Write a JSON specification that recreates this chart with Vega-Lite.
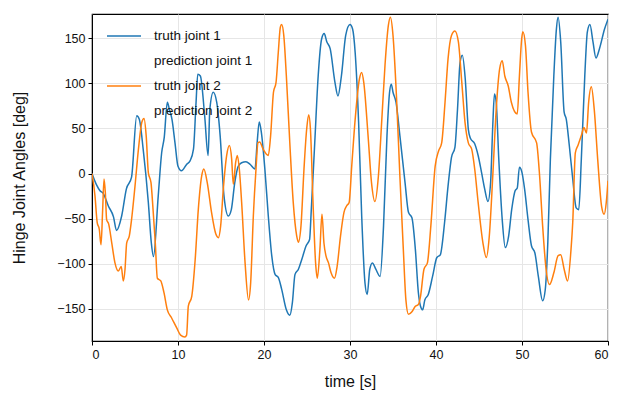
{
  "$schema": "https://vega.github.io/schema/vega-lite/v6.json",
  "width": 516,
  "height": 327,
  "autosize": {"type": "none"},
  "padding": {"left": 92, "top": 14, "right": 10, "bottom": 55},
  "background": "white",
  "config": {
    "view": {"stroke": "black", "strokeWidth": 1.2},
    "font": "Liberation Sans",
    "axis": {
      "domainColor": "black", "tickColor": "black", "tickSize": 4, "labelFontSize": 12.5, "labelColor": "#111",
      "titleFontSize": 16, "titleFontWeight": "normal", "titleColor": "#111", "titleLimit": 500, "gridColor": "#e6e6e6", "gridWidth": 1, "labelPadding": 3
    }
  },
  "data": {"values": [
    {"s":"truth joint 1","t":0,"v":0},{"s":"truth joint 1","t":0.5,"v":-12},{"s":"truth joint 1","t":0.93,"v":-19},{"s":"truth joint 1","t":1.3,"v":-22},{"s":"truth joint 1","t":1.9,"v":-36},{"s":"truth joint 1","t":2.5,"v":-48},{"s":"truth joint 1","t":2.85,"v":-63},{"s":"truth joint 1","t":3.45,"v":-47},{"s":"truth joint 1","t":4.0,"v":-17},{"s":"truth joint 1","t":4.6,"v":-4},{"s":"truth joint 1","t":5.2,"v":64},{"s":"truth joint 1","t":5.5,"v":60},{"s":"truth joint 1","t":5.95,"v":27},{"s":"truth joint 1","t":6.55,"v":-32},{"s":"truth joint 1","t":6.9,"v":-77},{"s":"truth joint 1","t":7.15,"v":-92},{"s":"truth joint 1","t":7.7,"v":-25},{"s":"truth joint 1","t":8.1,"v":23},{"s":"truth joint 1","t":8.4,"v":40},{"s":"truth joint 1","t":8.76,"v":79},{"s":"truth joint 1","t":9.0,"v":71},{"s":"truth joint 1","t":9.3,"v":60},{"s":"truth joint 1","t":9.65,"v":34},{"s":"truth joint 1","t":10.0,"v":8},{"s":"truth joint 1","t":10.4,"v":3},{"s":"truth joint 1","t":11.0,"v":10},{"s":"truth joint 1","t":11.4,"v":14},{"s":"truth joint 1","t":11.8,"v":27},{"s":"truth joint 1","t":12.1,"v":79},{"s":"truth joint 1","t":12.3,"v":110},{"s":"truth joint 1","t":12.6,"v":108},{"s":"truth joint 1","t":13.1,"v":64},{"s":"truth joint 1","t":13.5,"v":20},{"s":"truth joint 1","t":13.7,"v":71},{"s":"truth joint 1","t":14.1,"v":90},{"s":"truth joint 1","t":14.5,"v":79},{"s":"truth joint 1","t":14.9,"v":42},{"s":"truth joint 1","t":15.35,"v":-25},{"s":"truth joint 1","t":15.85,"v":-47},{"s":"truth joint 1","t":16.2,"v":-40},{"s":"truth joint 1","t":16.6,"v":-10},{"s":"truth joint 1","t":17.0,"v":8},{"s":"truth joint 1","t":17.4,"v":12},{"s":"truth joint 1","t":17.9,"v":13},{"s":"truth joint 1","t":18.4,"v":10},{"s":"truth joint 1","t":18.95,"v":5},{"s":"truth joint 1","t":19.2,"v":34},{"s":"truth joint 1","t":19.45,"v":57},{"s":"truth joint 1","t":19.7,"v":45},{"s":"truth joint 1","t":20.1,"v":5},{"s":"truth joint 1","t":20.5,"v":-47},{"s":"truth joint 1","t":20.9,"v":-91},{"s":"truth joint 1","t":21.3,"v":-112},{"s":"truth joint 1","t":21.66,"v":-115},{"s":"truth joint 1","t":22.05,"v":-128},{"s":"truth joint 1","t":22.6,"v":-151},{"s":"truth joint 1","t":23.0,"v":-157},{"s":"truth joint 1","t":23.3,"v":-143},{"s":"truth joint 1","t":23.6,"v":-112},{"s":"truth joint 1","t":24.0,"v":-106},{"s":"truth joint 1","t":24.4,"v":-95},{"s":"truth joint 1","t":24.9,"v":-80},{"s":"truth joint 1","t":25.3,"v":-73},{"s":"truth joint 1","t":25.5,"v":-40},{"s":"truth joint 1","t":25.9,"v":34},{"s":"truth joint 1","t":26.3,"v":108},{"s":"truth joint 1","t":26.7,"v":149},{"s":"truth joint 1","t":27.0,"v":155},{"s":"truth joint 1","t":27.3,"v":146},{"s":"truth joint 1","t":27.7,"v":138},{"s":"truth joint 1","t":28.25,"v":101},{"s":"truth joint 1","t":28.6,"v":86},{"s":"truth joint 1","t":29.0,"v":108},{"s":"truth joint 1","t":29.5,"v":153},{"s":"truth joint 1","t":30.0,"v":165},{"s":"truth joint 1","t":30.3,"v":160},{"s":"truth joint 1","t":30.6,"v":134},{"s":"truth joint 1","t":31.0,"v":57},{"s":"truth joint 1","t":31.36,"v":-47},{"s":"truth joint 1","t":31.74,"v":-121},{"s":"truth joint 1","t":32.0,"v":-134},{"s":"truth joint 1","t":32.3,"v":-106},{"s":"truth joint 1","t":32.6,"v":-99},{"s":"truth joint 1","t":33.0,"v":-106},{"s":"truth joint 1","t":33.5,"v":-114},{"s":"truth joint 1","t":33.9,"v":-58},{"s":"truth joint 1","t":34.3,"v":42},{"s":"truth joint 1","t":34.6,"v":90},{"s":"truth joint 1","t":34.8,"v":99},{"s":"truth joint 1","t":35.0,"v":90},{"s":"truth joint 1","t":35.35,"v":79},{"s":"truth joint 1","t":35.8,"v":42},{"s":"truth joint 1","t":36.4,"v":-10},{"s":"truth joint 1","t":36.8,"v":-43},{"s":"truth joint 1","t":37.2,"v":-49},{"s":"truth joint 1","t":37.6,"v":-84},{"s":"truth joint 1","t":37.95,"v":-132},{"s":"truth joint 1","t":38.2,"v":-147},{"s":"truth joint 1","t":38.45,"v":-151},{"s":"truth joint 1","t":38.7,"v":-140},{"s":"truth joint 1","t":39.1,"v":-134},{"s":"truth joint 1","t":39.6,"v":-114},{"s":"truth joint 1","t":40.1,"v":-93},{"s":"truth joint 1","t":40.5,"v":-90},{"s":"truth joint 1","t":41.0,"v":-54},{"s":"truth joint 1","t":41.4,"v":-14},{"s":"truth joint 1","t":41.8,"v":18},{"s":"truth joint 1","t":42.2,"v":29},{"s":"truth joint 1","t":42.5,"v":71},{"s":"truth joint 1","t":42.8,"v":123},{"s":"truth joint 1","t":43.06,"v":131},{"s":"truth joint 1","t":43.4,"v":105},{"s":"truth joint 1","t":43.76,"v":49},{"s":"truth joint 1","t":44.0,"v":39},{"s":"truth joint 1","t":44.5,"v":33},{"s":"truth joint 1","t":44.9,"v":20},{"s":"truth joint 1","t":45.3,"v":1},{"s":"truth joint 1","t":45.66,"v":-17},{"s":"truth joint 1","t":46.04,"v":-31},{"s":"truth joint 1","t":46.35,"v":-10},{"s":"truth joint 1","t":46.6,"v":53},{"s":"truth joint 1","t":46.8,"v":88},{"s":"truth joint 1","t":47.0,"v":79},{"s":"truth joint 1","t":47.3,"v":16},{"s":"truth joint 1","t":47.7,"v":-51},{"s":"truth joint 1","t":48.06,"v":-82},{"s":"truth joint 1","t":48.45,"v":-69},{"s":"truth joint 1","t":48.8,"v":-40},{"s":"truth joint 1","t":49.2,"v":-19},{"s":"truth joint 1","t":49.45,"v":-16},{"s":"truth joint 1","t":49.7,"v":7},{"s":"truth joint 1","t":50.0,"v":1},{"s":"truth joint 1","t":50.3,"v":-17},{"s":"truth joint 1","t":50.7,"v":-51},{"s":"truth joint 1","t":51.1,"v":-80},{"s":"truth joint 1","t":51.5,"v":-88},{"s":"truth joint 1","t":51.9,"v":-114},{"s":"truth joint 1","t":52.4,"v":-141},{"s":"truth joint 1","t":52.7,"v":-129},{"s":"truth joint 1","t":53.0,"v":-77},{"s":"truth joint 1","t":53.3,"v":16},{"s":"truth joint 1","t":53.7,"v":108},{"s":"truth joint 1","t":54.0,"v":160},{"s":"truth joint 1","t":54.2,"v":173},{"s":"truth joint 1","t":54.5,"v":146},{"s":"truth joint 1","t":54.9,"v":68},{"s":"truth joint 1","t":55.15,"v":60},{"s":"truth joint 1","t":55.5,"v":31},{"s":"truth joint 1","t":55.9,"v":-6},{"s":"truth joint 1","t":56.3,"v":-38},{"s":"truth joint 1","t":56.6,"v":-40},{"s":"truth joint 1","t":56.9,"v":16},{"s":"truth joint 1","t":57.3,"v":108},{"s":"truth joint 1","t":57.6,"v":157},{"s":"truth joint 1","t":57.9,"v":165},{"s":"truth joint 1","t":58.25,"v":146},{"s":"truth joint 1","t":58.6,"v":128},{"s":"truth joint 1","t":59.0,"v":138},{"s":"truth joint 1","t":59.6,"v":160},{"s":"truth joint 1","t":60,"v":171},
    {"s":"truth joint 2","t":0,"v":0},{"s":"truth joint 2","t":0.35,"v":-25},{"s":"truth joint 2","t":0.6,"v":-54},{"s":"truth joint 2","t":0.85,"v":-62},{"s":"truth joint 2","t":1.05,"v":-79},{"s":"truth joint 2","t":1.24,"v":-40},{"s":"truth joint 2","t":1.4,"v":-6},{"s":"truth joint 2","t":1.55,"v":-21},{"s":"truth joint 2","t":1.7,"v":-51},{"s":"truth joint 2","t":1.94,"v":-56},{"s":"truth joint 2","t":2.3,"v":-77},{"s":"truth joint 2","t":2.67,"v":-99},{"s":"truth joint 2","t":3.06,"v":-108},{"s":"truth joint 2","t":3.4,"v":-103},{"s":"truth joint 2","t":3.64,"v":-119},{"s":"truth joint 2","t":3.84,"v":-106},{"s":"truth joint 2","t":4.03,"v":-77},{"s":"truth joint 2","t":4.34,"v":-69},{"s":"truth joint 2","t":4.6,"v":-51},{"s":"truth joint 2","t":5.0,"v":-14},{"s":"truth joint 2","t":5.4,"v":27},{"s":"truth joint 2","t":5.8,"v":57},{"s":"truth joint 2","t":6.05,"v":61},{"s":"truth joint 2","t":6.3,"v":42},{"s":"truth joint 2","t":6.55,"v":1},{"s":"truth joint 2","t":6.86,"v":-10},{"s":"truth joint 2","t":7.1,"v":-40},{"s":"truth joint 2","t":7.36,"v":-77},{"s":"truth joint 2","t":7.6,"v":-116},{"s":"truth joint 2","t":8.0,"v":-119},{"s":"truth joint 2","t":8.37,"v":-132},{"s":"truth joint 2","t":8.76,"v":-151},{"s":"truth joint 2","t":9.26,"v":-160},{"s":"truth joint 2","t":9.85,"v":-171},{"s":"truth joint 2","t":10.3,"v":-179},{"s":"truth joint 2","t":10.8,"v":-181},{"s":"truth joint 2","t":11.0,"v":-179},{"s":"truth joint 2","t":11.2,"v":-147},{"s":"truth joint 2","t":11.6,"v":-136},{"s":"truth joint 2","t":12.0,"v":-95},{"s":"truth joint 2","t":12.36,"v":-40},{"s":"truth joint 2","t":12.75,"v":-3},{"s":"truth joint 2","t":13.0,"v":5},{"s":"truth joint 2","t":13.4,"v":-10},{"s":"truth joint 2","t":13.9,"v":-43},{"s":"truth joint 2","t":14.4,"v":-67},{"s":"truth joint 2","t":14.7,"v":-71},{"s":"truth joint 2","t":14.96,"v":-58},{"s":"truth joint 2","t":15.27,"v":-17},{"s":"truth joint 2","t":15.66,"v":20},{"s":"truth joint 2","t":15.97,"v":31},{"s":"truth joint 2","t":16.24,"v":16},{"s":"truth joint 2","t":16.43,"v":-12},{"s":"truth joint 2","t":16.7,"v":12},{"s":"truth joint 2","t":16.9,"v":20},{"s":"truth joint 2","t":17.13,"v":5},{"s":"truth joint 2","t":17.4,"v":-32},{"s":"truth joint 2","t":17.8,"v":-99},{"s":"truth joint 2","t":18.2,"v":-140},{"s":"truth joint 2","t":18.45,"v":-121},{"s":"truth joint 2","t":18.76,"v":-47},{"s":"truth joint 2","t":19.07,"v":5},{"s":"truth joint 2","t":19.3,"v":34},{"s":"truth joint 2","t":19.5,"v":35},{"s":"truth joint 2","t":19.9,"v":27},{"s":"truth joint 2","t":20.5,"v":20},{"s":"truth joint 2","t":20.77,"v":42},{"s":"truth joint 2","t":21.1,"v":90},{"s":"truth joint 2","t":21.4,"v":101},{"s":"truth joint 2","t":21.66,"v":134},{"s":"truth joint 2","t":21.9,"v":162},{"s":"truth joint 2","t":22.05,"v":165},{"s":"truth joint 2","t":22.3,"v":153},{"s":"truth joint 2","t":22.6,"v":108},{"s":"truth joint 2","t":23.0,"v":34},{"s":"truth joint 2","t":23.4,"v":-32},{"s":"truth joint 2","t":23.8,"v":-69},{"s":"truth joint 2","t":24.0,"v":-76},{"s":"truth joint 2","t":24.3,"v":-58},{"s":"truth joint 2","t":24.65,"v":5},{"s":"truth joint 2","t":24.96,"v":49},{"s":"truth joint 2","t":25.2,"v":65},{"s":"truth joint 2","t":25.4,"v":49},{"s":"truth joint 2","t":25.7,"v":-32},{"s":"truth joint 2","t":26.0,"v":-99},{"s":"truth joint 2","t":26.2,"v":-116},{"s":"truth joint 2","t":26.5,"v":-84},{"s":"truth joint 2","t":26.74,"v":-45},{"s":"truth joint 2","t":26.97,"v":-77},{"s":"truth joint 2","t":27.2,"v":-91},{"s":"truth joint 2","t":27.5,"v":-99},{"s":"truth joint 2","t":27.8,"v":-110},{"s":"truth joint 2","t":28.2,"v":-116},{"s":"truth joint 2","t":28.5,"v":-103},{"s":"truth joint 2","t":28.9,"v":-69},{"s":"truth joint 2","t":29.3,"v":-43},{"s":"truth joint 2","t":29.6,"v":-36},{"s":"truth joint 2","t":29.9,"v":-32},{"s":"truth joint 2","t":30.2,"v":8},{"s":"truth joint 2","t":30.6,"v":60},{"s":"truth joint 2","t":31.1,"v":105},{"s":"truth joint 2","t":31.36,"v":112},{"s":"truth joint 2","t":31.6,"v":101},{"s":"truth joint 2","t":32.1,"v":42},{"s":"truth joint 2","t":32.5,"v":-10},{"s":"truth joint 2","t":32.9,"v":-31},{"s":"truth joint 2","t":33.3,"v":-3},{"s":"truth joint 2","t":33.7,"v":60},{"s":"truth joint 2","t":34.07,"v":120},{"s":"truth joint 2","t":34.46,"v":164},{"s":"truth joint 2","t":34.7,"v":173},{"s":"truth joint 2","t":35.0,"v":153},{"s":"truth joint 2","t":35.4,"v":86},{"s":"truth joint 2","t":35.8,"v":-3},{"s":"truth joint 2","t":36.2,"v":-84},{"s":"truth joint 2","t":36.5,"v":-140},{"s":"truth joint 2","t":36.8,"v":-156},{"s":"truth joint 2","t":37.2,"v":-153},{"s":"truth joint 2","t":37.6,"v":-147},{"s":"truth joint 2","t":37.95,"v":-145},{"s":"truth joint 2","t":38.2,"v":-136},{"s":"truth joint 2","t":38.6,"v":-106},{"s":"truth joint 2","t":39.0,"v":-99},{"s":"truth joint 2","t":39.4,"v":-58},{"s":"truth joint 2","t":39.9,"v":8},{"s":"truth joint 2","t":40.3,"v":25},{"s":"truth joint 2","t":40.66,"v":34},{"s":"truth joint 2","t":41.05,"v":79},{"s":"truth joint 2","t":41.4,"v":127},{"s":"truth joint 2","t":41.8,"v":153},{"s":"truth joint 2","t":42.2,"v":158},{"s":"truth joint 2","t":42.6,"v":146},{"s":"truth joint 2","t":43.0,"v":101},{"s":"truth joint 2","t":43.37,"v":57},{"s":"truth joint 2","t":43.76,"v":34},{"s":"truth joint 2","t":44.15,"v":27},{"s":"truth joint 2","t":44.5,"v":5},{"s":"truth joint 2","t":44.9,"v":-32},{"s":"truth joint 2","t":45.46,"v":-77},{"s":"truth joint 2","t":45.85,"v":-93},{"s":"truth joint 2","t":46.2,"v":-69},{"s":"truth joint 2","t":46.6,"v":-3},{"s":"truth joint 2","t":47.0,"v":71},{"s":"truth joint 2","t":47.4,"v":116},{"s":"truth joint 2","t":47.7,"v":125},{"s":"truth joint 2","t":48.0,"v":108},{"s":"truth joint 2","t":48.4,"v":97},{"s":"truth joint 2","t":48.76,"v":79},{"s":"truth joint 2","t":49.45,"v":66},{"s":"truth joint 2","t":49.7,"v":108},{"s":"truth joint 2","t":49.96,"v":149},{"s":"truth joint 2","t":50.1,"v":157},{"s":"truth joint 2","t":50.4,"v":142},{"s":"truth joint 2","t":50.7,"v":90},{"s":"truth joint 2","t":51.1,"v":46},{"s":"truth joint 2","t":51.7,"v":34},{"s":"truth joint 2","t":52.05,"v":-3},{"s":"truth joint 2","t":52.4,"v":-58},{"s":"truth joint 2","t":52.8,"v":-106},{"s":"truth joint 2","t":53.2,"v":-123},{"s":"truth joint 2","t":53.7,"v":-110},{"s":"truth joint 2","t":54.2,"v":-91},{"s":"truth joint 2","t":54.5,"v":-90},{"s":"truth joint 2","t":54.9,"v":-106},{"s":"truth joint 2","t":55.3,"v":-119},{"s":"truth joint 2","t":55.7,"v":-84},{"s":"truth joint 2","t":55.9,"v":-54},{"s":"truth joint 2","t":56.2,"v":23},{"s":"truth joint 2","t":56.5,"v":31},{"s":"truth joint 2","t":56.9,"v":42},{"s":"truth joint 2","t":57.2,"v":51},{"s":"truth joint 2","t":57.5,"v":45},{"s":"truth joint 2","t":57.75,"v":79},{"s":"truth joint 2","t":58.06,"v":96},{"s":"truth joint 2","t":58.4,"v":71},{"s":"truth joint 2","t":58.8,"v":16},{"s":"truth joint 2","t":59.25,"v":-36},{"s":"truth joint 2","t":59.55,"v":-45},{"s":"truth joint 2","t":59.8,"v":-32},{"s":"truth joint 2","t":60,"v":-8}
  ]},
  "mark": {"type": "line", "interpolate": "monotone", "strokeWidth": 1.5, "clip": true},
  "encoding": {
    "x": {"field": "t", "type": "quantitative", "title": "time [s]",
      "scale": {"domain": [0, 60], "nice": false, "zero": false},
      "axis": {"values": [0, 10, 20, 30, 40, 50, 60], "titlePadding": 13}},
    "y": {"field": "v", "type": "quantitative", "title": "Hinge Joint Angles [deg]",
      "scale": {"domain": [-185.5, 176.7], "nice": false, "zero": false},
      "axis": {"values": [-150, -100, -50, 0, 50, 100, 150], "titlePadding": 29}},
    "color": {"field": "s", "type": "nominal",
      "scale": {"domain": ["truth joint 1", "prediction joint 1", "truth joint 2", "prediction joint 2"],
                "range": ["#1f77b4", "rgba(0,0,0,0)", "#ff7f0e", "rgba(0,0,0,0)"]},
      "legend": {"title": null, "orient": "none", "legendX": 14, "legendY": 4, "padding": 0,
        "symbolType": "stroke", "symbolSize": 1156, "symbolStrokeWidth": 1.5, "labelFontSize": 13.5, "labelColor": "#111",
        "labelOffset": 12, "rowPadding": -11.3, "labelLimit": 300}}
  }
}
